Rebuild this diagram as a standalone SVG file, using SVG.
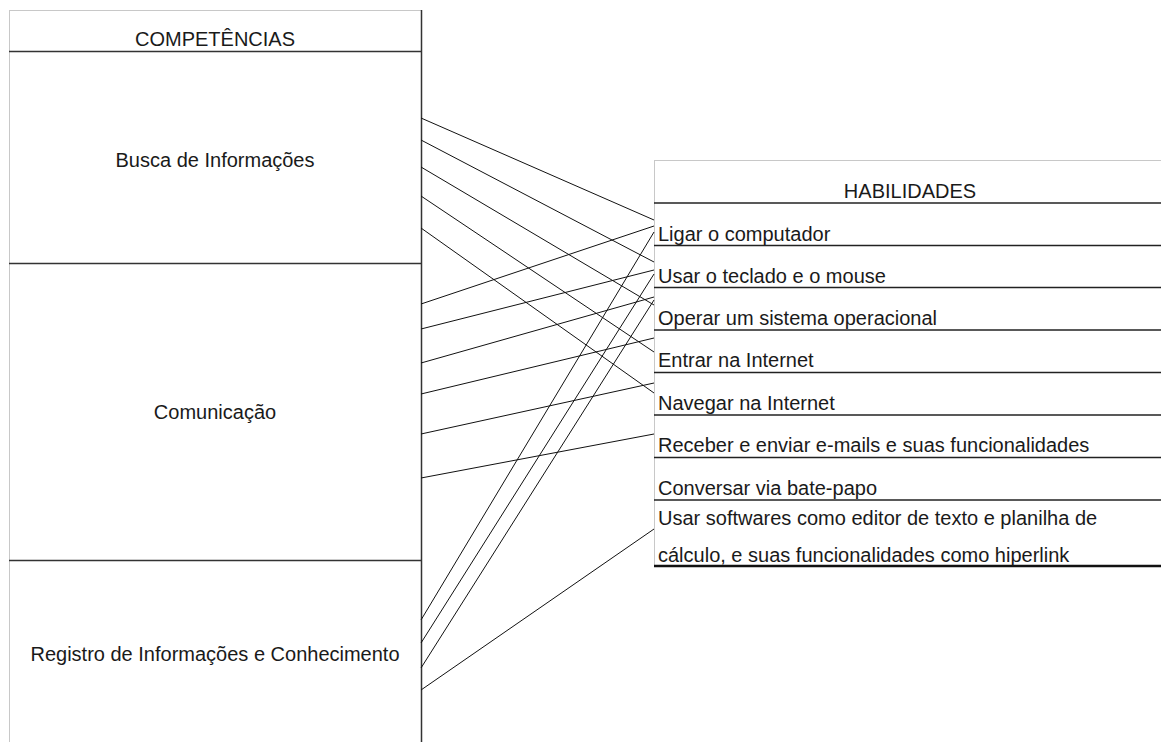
<svg xmlns="http://www.w3.org/2000/svg" width="1161" height="742" viewBox="0 0 1161 742">
  <style>
    .lbl { font-family: "Liberation Sans", Arial, sans-serif; font-size: 20px; fill: #1a1a1a; }
    .mid { text-anchor: middle; }
    .frame { fill: #ffffff; stroke: #c8c8c8; stroke-width: 1; }
    .edge { stroke: #333333; stroke-width: 1.5; fill: none; }
    .rule { stroke: #222222; stroke-width: 1.5; }
    .link { stroke: #111111; stroke-width: 1; fill: none; }
  </style>
  <rect width="1161" height="742" fill="#ffffff"/>

  <!-- Competências column -->
  <g id="competencias">
    <rect class="frame" x="9.5" y="10.5" width="412" height="740"/>
    <line class="edge" x1="421.5" y1="10" x2="421.5" y2="742"/>
    <line class="edge" x1="9" y1="51.5" x2="421" y2="51.5"/>
    <text class="lbl mid" x="215" y="46">COMPETÊNCIAS</text>
  </g>
  <g id="busca">
    <text class="lbl mid" x="215" y="167">Busca de Informações</text>
  </g>
  <g id="comunicacao">
    <line class="edge" x1="9" y1="263.5" x2="421" y2="263.5"/>
    <text class="lbl mid" x="215" y="419">Comunicação</text>
  </g>
  <g id="registro">
    <line class="edge" x1="9" y1="560.5" x2="421" y2="560.5"/>
    <text class="lbl mid" x="215" y="661">Registro de Informações e Conhecimento</text>
  </g>

  <!-- Habilidades column -->
  <g id="habilidades">
    <rect class="frame" x="654.5" y="160.5" width="520" height="406"/>
    <line class="rule" x1="654" y1="203" x2="1161" y2="203"/>
    <text class="lbl mid" x="910" y="198">HABILIDADES</text>
  </g>
  <g id="h-ligar">
    <line class="rule" x1="654" y1="245.5" x2="1161" y2="245.5"/>
    <text class="lbl" x="658" y="241">Ligar o computador</text>
  </g>
  <g id="h-teclado">
    <line class="rule" x1="654" y1="287.5" x2="1161" y2="287.5"/>
    <text class="lbl" x="658" y="283">Usar o teclado e o mouse</text>
  </g>
  <g id="h-sistema">
    <line class="rule" x1="654" y1="330" x2="1161" y2="330"/>
    <text class="lbl" x="658" y="325">Operar um sistema operacional</text>
  </g>
  <g id="h-entrar">
    <line class="rule" x1="654" y1="372.5" x2="1161" y2="372.5"/>
    <text class="lbl" x="658" y="367">Entrar na Internet</text>
  </g>
  <g id="h-navegar">
    <line class="rule" x1="654" y1="415" x2="1161" y2="415"/>
    <text class="lbl" x="658" y="410">Navegar na Internet</text>
  </g>
  <g id="h-email">
    <line class="rule" x1="654" y1="457.5" x2="1161" y2="457.5"/>
    <text class="lbl" x="658" y="452">Receber e enviar e-mails e suas funcionalidades</text>
  </g>
  <g id="h-batepapo">
    <line class="rule" x1="654" y1="500" x2="1161" y2="500"/>
    <text class="lbl" x="658" y="495">Conversar via bate-papo</text>
  </g>
  <g id="h-softwares">
    <line x1="654" y1="566" x2="1161" y2="566" stroke="#111111" stroke-width="2.5"/>
    <text class="lbl" x="658" y="525">Usar softwares como editor de texto e planilha de</text>
    <text class="lbl" x="658" y="562">cálculo, e suas funcionalidades como hiperlink</text>
  </g>

  <!-- Links between competências and habilidades -->
  <g id="connectors">
    <!-- Busca de Informações -->
    <line class="link" x1="421" y1="118" x2="654" y2="220"/>
    <line class="link" x1="421" y1="140" x2="654" y2="262"/>
    <line class="link" x1="421" y1="167" x2="654" y2="305"/>
    <line class="link" x1="421" y1="196" x2="654" y2="352"/>
    <line class="link" x1="421" y1="228" x2="654" y2="393"/>
    <!-- Comunicação -->
    <line class="link" x1="421" y1="304" x2="654" y2="226"/>
    <line class="link" x1="421" y1="329" x2="654" y2="270"/>
    <line class="link" x1="421" y1="363" x2="654" y2="297"/>
    <line class="link" x1="421" y1="394" x2="654" y2="338"/>
    <line class="link" x1="421" y1="434" x2="654" y2="383"/>
    <line class="link" x1="421" y1="478" x2="654" y2="434"/>
    <!-- Registro de Informações e Conhecimento -->
    <line class="link" x1="421" y1="620" x2="654" y2="232"/>
    <line class="link" x1="421" y1="643" x2="654" y2="274"/>
    <line class="link" x1="421" y1="668" x2="654" y2="300"/>
    <line class="link" x1="421" y1="690" x2="654" y2="529"/>
  </g>
</svg>
